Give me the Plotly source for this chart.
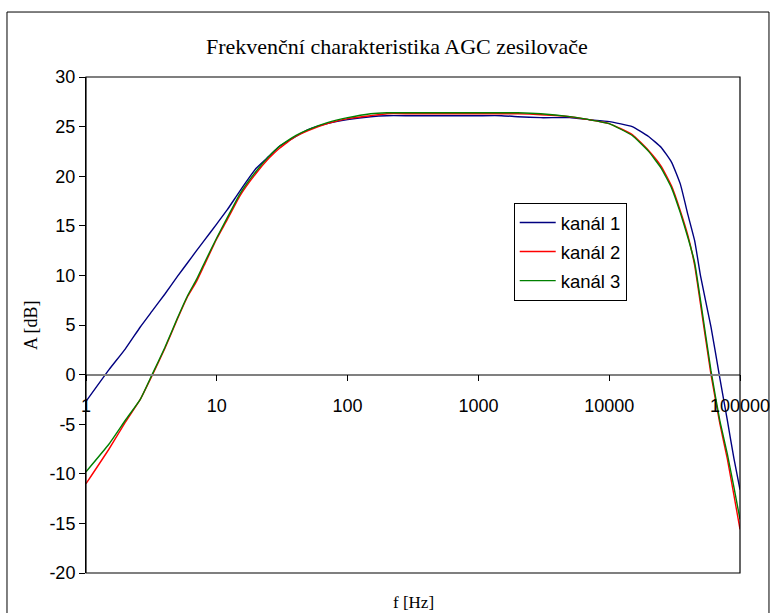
import plotly.graph_objects as go

# Measurement frequencies [Hz]
freq = [1, 1.5, 2, 2.6, 3.2, 4, 5, 6, 7, 8, 10, 12, 15, 20, 25, 30, 40, 50, 70,
        100, 150, 200, 300, 500, 700, 1000, 1500, 2000, 3000, 5000, 7000,
        10000, 15000, 20000, 25000, 30000, 35000, 40000, 45000, 50000,
        60000, 70000, 80000, 90000, 100000]

# Gain of each channel [dB]
kanal_1 = [-2.7, 0.5, 2.6, 4.8, 6.4, 8.1, 9.9, 11.3, 12.5, 13.5, 15.2, 16.6,
           18.5, 20.8, 22.0, 23.0, 24.0, 24.7, 25.3, 25.7, 26.0, 26.1, 26.1,
           26.1, 26.1, 26.1, 26.1, 26.0, 25.9, 25.9, 25.7, 25.5, 25.0, 24.0,
           22.9, 21.4, 19.2, 16.1, 13.5, 9.9, 4.8, -0.3, -4.6, -8.5, -11.6]
kanal_2 = [-11.0, -7.5, -4.8, -2.5, -0.1, 2.6, 5.6, 7.9, 9.4, 11.0, 13.7, 15.6,
           18.0, 20.3, 21.8, 22.8, 24.0, 24.6, 25.3, 25.8, 26.1, 26.3, 26.3,
           26.3, 26.3, 26.3, 26.3, 26.3, 26.2, 26.0, 25.7, 25.3, 24.2, 22.6,
           21.0, 19.0, 16.5, 14.0, 11.0, 7.0, 0.0, -4.9, -8.5, -12.2, -15.6]
kanal_3 = [-9.8, -7.0, -4.6, -2.5, 0.0, 2.7, 5.7, 8.0, 9.6, 11.2, 13.8, 15.8,
           18.2, 20.5, 22.0, 23.0, 24.1, 24.7, 25.4, 25.9, 26.3, 26.4, 26.4,
           26.4, 26.4, 26.4, 26.4, 26.4, 26.3, 26.0, 25.7, 25.3, 24.1, 22.5,
           20.8, 18.8, 16.3, 13.8, 11.3, 7.4, 0.4, -4.6, -8.0, -11.4, -14.6]

series = [("kanál 1", kanal_1, "#000080"),
          ("kanál 2", kanal_2, "#FF0000"),
          ("kanál 3", kanal_3, "#008000")]

x_ticks = [1, 10, 100, 1000, 10000, 100000]
x_ticktext = ["1", "10", "100", "1000", "10000", "100000"]
y_ticks = [30, 25, 20, 15, 10, 5, 0, -5, -10, -15, -20]
y_ticktext = ["30", "25", "20", "15", "10", "5", "0", "-5", "-10", "-15", "-20"]

SANS = "Liberation Sans, Arial, sans-serif"
SERIF = "Liberation Serif, Times New Roman, serif"

fig = go.Figure()
for name, vals, color in series:
    fig.add_trace(go.Scatter(
        x=freq, y=vals, name=name, mode="lines", legendgroup=name,
        line=dict(color=color, width=1.4, shape="spline", smoothing=0.4),
    ))

fig.update_layout(
    width=772, height=613,
    margin=dict(l=86, r=32, t=77, b=40),
    paper_bgcolor="white", plot_bgcolor="white",
    font=dict(family=SANS, size=18, color="black"),
    showlegend=True,
    legend=dict(x=0.654, y=0.746, xanchor="left", yanchor="top",
                bgcolor="white", bordercolor="black", borderwidth=1,
                tracegroupgap=2, itemwidth=36,
                font=dict(family=SANS, size=18.5, color="black")),
    xaxis=dict(type="log", range=[0, 5], anchor="free", position=0.4,
               automargin=False,
               showline=True, linecolor="#808080", linewidth=1.5,
               ticks="outside", ticklen=6, tickcolor="black",
               tickvals=x_ticks, ticktext=x_ticktext,
               ticklabelstandoff=9,
               showgrid=False, zeroline=False,
               tickfont=dict(family=SANS, size=18)),
    yaxis=dict(range=[-20, 30], automargin=False,
               tickvals=y_ticks, ticktext=y_ticktext,
               showline=True, linecolor="black", linewidth=1,
               ticks="outside", ticklen=6, tickcolor="black",
               showgrid=False, zeroline=False,
               tickfont=dict(family=SANS, size=18)),
    shapes=[
        # plot-area frame
        dict(type="rect", xref="paper", yref="paper", x0=0, x1=1, y0=0, y1=1,
             line=dict(color="black", width=1.2), layer="above"),
        # outer chart frame
        dict(type="rect", xref="paper", yref="paper",
             x0=-0.1208, x1=1.0443, y0=-0.1, y1=1.131,
             line=dict(color="black", width=1)),
    ],
    annotations=[
        dict(text="Frekvenční charakteristika AGC zesilovače",
             xref="paper", yref="paper", x=(397 - 86) / 654, y=(573 - 47) / 496,
             xanchor="center", yanchor="middle", showarrow=False,
             font=dict(family=SERIF, size=22)),
        dict(text="A [dB]", xref="paper", yref="paper",
             x=(31 - 86) / 654, y=(573 - 325) / 496, textangle=-90,
             xanchor="center", yanchor="middle", showarrow=False,
             font=dict(family=SERIF, size=18)),
        dict(text="f [Hz]", xref="paper", yref="paper",
             x=(414 - 86) / 654, y=(573 - 602) / 496,
             xanchor="center", yanchor="middle", showarrow=False,
             font=dict(family=SERIF, size=17)),
    ],
)

fig.write_html("out.html")
